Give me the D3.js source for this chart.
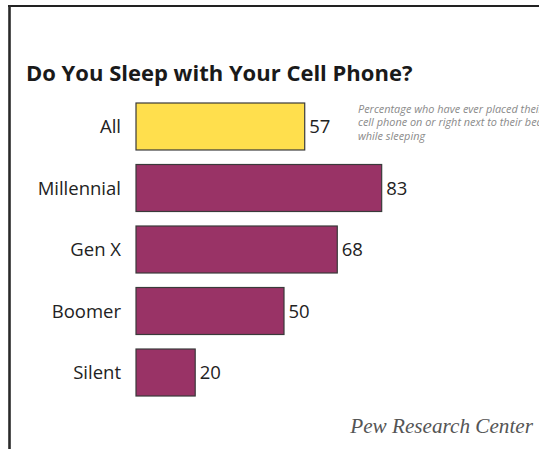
<!DOCTYPE html>
<html>
<head>
<meta charset="utf-8">
<script src="https://cdn.jsdelivr.net/npm/d3@7"></script>
<style>
  html, body { margin: 0; padding: 0; background: #fff; }
  svg { display: block; }
</style>
</head>
<body>
<div id="chart"></div>
<script>
// Share of each generation that has slept with the phone on or next to the bed
const categories = ["All", "Millennial", "Gen X", "Boomer", "Silent"];
const values = [57, 83, 68, 50, 20];
const highlight = ["All"];

const title = "Do You Sleep with Your Cell Phone?";
const noteLines = [
  "Percentage who have ever placed their",
  "cell phone on or right next to their bed",
  "while sleeping"
];
const source = "Pew Research Center";

const W = 539, H = 449;
const svg = d3.select("#chart").append("svg")
  .attr("width", W).attr("height", H);

// frame: top rule and left rule
svg.append("line")
  .attr("x1", 8).attr("x2", W).attr("y1", 6).attr("y2", 6)
  .attr("stroke", "#222").attr("stroke-width", 2);
svg.append("line")
  .attr("x1", 9.5).attr("x2", 9.5).attr("y1", 5).attr("y2", H)
  .attr("stroke", "#2a2a2a").attr("stroke-width", 2.6);

svg.append("text")
  .attr("x", 26).attr("y", 81)
  .attr("font-family", "'Open Sans', sans-serif")
  .attr("font-weight", 700)
  .attr("font-size", 22)
  .attr("fill", "#1a1a1a")
  .text(title);

const x = d3.scaleLinear().domain([0, 100]).range([136, 432]);
const y = d3.scaleBand().domain(categories).range([103, 396])
  .paddingInner(0.236).paddingOuter(0);

const data = categories.map((c, i) => ({ cat: c, val: values[i] }));

const rows = svg.append("g").selectAll("g").data(data).join("g");

rows.append("rect")
  .attr("x", x(0))
  .attr("y", d => y(d.cat))
  .attr("width", d => x(d.val) - x(0))
  .attr("height", y.bandwidth())
  .attr("fill", d => highlight.includes(d.cat) ? "#ffdf4d" : "#993366")
  .attr("stroke", "#3a3a3a")
  .attr("stroke-width", 1.2);

rows.append("text")
  .attr("x", 121)
  .attr("y", d => y(d.cat) + y.bandwidth() / 2)
  .attr("dy", "0.36em")
  .attr("text-anchor", "end")
  .attr("font-family", "'Open Sans', sans-serif")
  .attr("font-size", 18.5)
  .attr("fill", "#222")
  .text(d => d.cat);

rows.append("text")
  .attr("x", d => x(d.val) + 4.5)
  .attr("y", d => y(d.cat) + y.bandwidth() / 2)
  .attr("dy", "0.36em")
  .attr("font-family", "'Open Sans', sans-serif")
  .attr("font-size", 18.5)
  .attr("fill", "#222")
  .text(d => d.val);

// explanatory note, running off the right edge of the frame
svg.append("text")
  .attr("font-family", "'Open Sans', sans-serif")
  .attr("font-style", "italic")
  .attr("font-size", 10.9)
  .attr("fill", "#8a8a8a")
  .selectAll("tspan").data(noteLines).join("tspan")
  .attr("x", 358)
  .attr("y", (d, i) => 113 + i * 13.4)
  .text(d => d);

svg.append("text")
  .attr("x", 533).attr("y", 433)
  .attr("text-anchor", "end")
  .attr("font-family", "'Liberation Serif', 'Times New Roman', serif")
  .attr("font-style", "italic")
  .attr("font-size", 21.2)
  .attr("fill", "#555")
  .text(source);
</script>
</body>
</html>
